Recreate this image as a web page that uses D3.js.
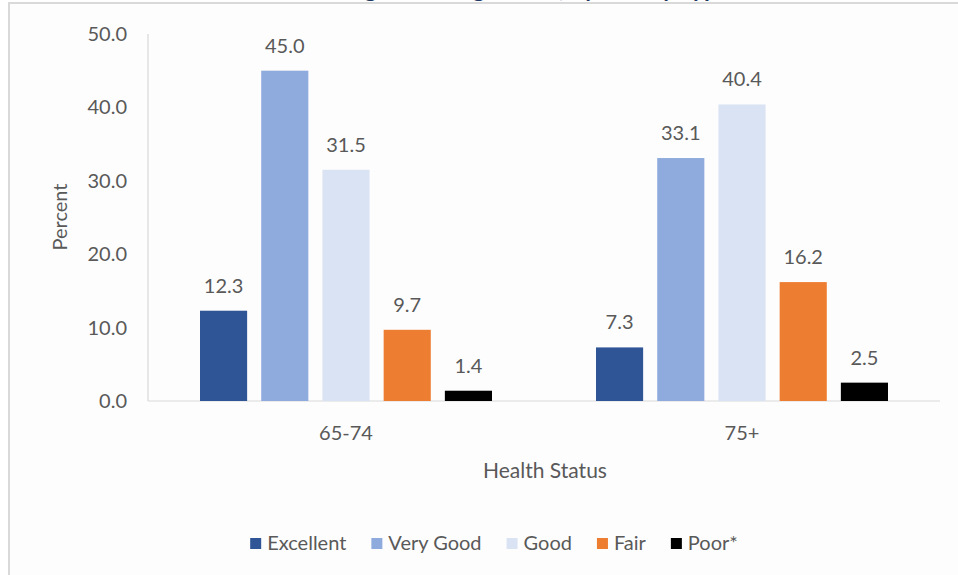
<!DOCTYPE html>
<meta charset="utf-8">
<style>
  body { margin: 0; background: #fff; }
  svg { display: block; font-family: Lato, "Open Sans", sans-serif; }
  .lbl { fill: #595959; }
</style>
<svg width="958" height="575"></svg>
<script src="https://cdn.jsdelivr.net/npm/d3@7"></script>
<script>

var groups = ["65-74", "75+"];
var series = ["Excellent", "Very Good", "Good", "Fair", "Poor*"];
var colors = ["#2f5597", "#8faadc", "#dae3f3", "#ed7d31", "#000000"];
var values = {
  "65-74": [12.3, 45.0, 31.5, 9.7, 1.4],
  "75+":   [7.3, 33.1, 40.4, 16.2, 2.5]
};
var yTicks = [0, 10, 20, 30, 40, 50];

var svg = d3.select("svg");

// outer chart frame (runs off the right and bottom edge)
svg.append("rect")
  .attr("x", 9).attr("y", 3)
  .attr("width", 1000).attr("height", 600)
  .attr("fill", "#fdfdfd")
  .attr("stroke", "#d9d9d9")
  .attr("stroke-width", 2);

// title, mostly cut off above the picture
svg.append("text")
  .attr("x", 420).attr("y", -3)
  .attr("text-anchor", "middle")
  .attr("font-size", 24)
  .attr("font-weight", "bold")
  .attr("fill", "#1f3864")
  .text("Self-Rated Health among Adults Aged 65+, by Survey Type");

// plot area (don't call it "top", window.top is taken)
var plot = {left: 148, right: 940, top: 34, bottom: 401};

var x0 = d3.scaleBand().domain(groups).range([plot.left, plot.right]);
var x1 = d3.scaleBand().domain(series)
  .range([52, x0.bandwidth() - 52])
  .paddingInner(0.23);
var y = d3.scaleLinear().domain([0, 50]).range([plot.bottom, plot.top]);

// axes lines
svg.append("line")
  .attr("x1", plot.left).attr("x2", plot.left)
  .attr("y1", y(50)).attr("y2", y(0))
  .attr("stroke", "#d9d9d9").attr("stroke-width", 1.2);

svg.append("line")
  .attr("x1", plot.left).attr("x2", plot.right)
  .attr("y1", y(0)).attr("y2", y(0))
  .attr("stroke", "#d9d9d9").attr("stroke-width", 1.2);

// y tick labels
svg.selectAll(".ytick")
  .data(yTicks)
  .enter().append("text")
  .attr("class", "lbl")
  .attr("x", 127)
  .attr("y", function(d) { return y(d) + 7; })
  .attr("text-anchor", "end")
  .attr("font-size", 20)
  .text(function(d) { return d.toFixed(1); });

svg.append("text")
  .attr("class", "lbl")
  .attr("transform", "translate(67,217) rotate(-90)")
  .attr("text-anchor", "middle")
  .attr("font-size", 20)
  .text("Percent");

// bars
var g = svg.selectAll(".grp")
  .data(groups)
  .enter().append("g")
  .attr("transform", function(d) { return "translate(" + x0(d) + ",0)"; });

function rows(d) {
  return series.map(function(s, i) { return {s: s, i: i, v: values[d][i]}; });
}

g.selectAll("rect")
  .data(rows)
  .enter().append("rect")
  .attr("x", function(d) { return x1(d.s); })
  .attr("y", function(d) { return y(d.v); })
  .attr("width", x1.bandwidth())
  .attr("height", function(d) { return y(0) - y(d.v); })
  .attr("fill", function(d) { return colors[d.i]; });

g.selectAll(".val")
  .data(rows)
  .enter().append("text")
  .attr("class", "lbl")
  .attr("x", function(d) { return x1(d.s) + x1.bandwidth() / 2; })
  .attr("y", function(d) { return y(d.v) - 18; })
  .attr("text-anchor", "middle")
  .attr("font-size", 20)
  .text(function(d) { return d.v.toFixed(1); });

// category labels
svg.selectAll(".cat")
  .data(groups)
  .enter().append("text")
  .attr("class", "lbl")
  .attr("x", function(d) { return x0(d) + x0.bandwidth() / 2; })
  .attr("y", 440)
  .attr("text-anchor", "middle")
  .attr("font-size", 20)
  .text(function(d) { return d; });

svg.append("text")
  .attr("class", "lbl")
  .attr("x", 545).attr("y", 478)
  .attr("text-anchor", "middle")
  .attr("font-size", 21)
  .text("Health Status");

// legend
var legend = svg.append("g");
var lx = 0;
series.forEach(function(s, i) {
  var item = legend.append("g").attr("transform", "translate(" + lx + ",0)");
  item.append("rect")
    .attr("x", 0).attr("y", -12)
    .attr("width", 11).attr("height", 11)
    .attr("fill", colors[i]);
  var t = item.append("text")
    .attr("class", "lbl")
    .attr("x", 17).attr("y", 0)
    .attr("font-size", 20)
    .text(s);
  lx += 17 + t.node().getComputedTextLength() + 25;
});
lx -= 25;
legend.attr("transform", "translate(" + (494 - lx / 2) + ",550)");

</script>
